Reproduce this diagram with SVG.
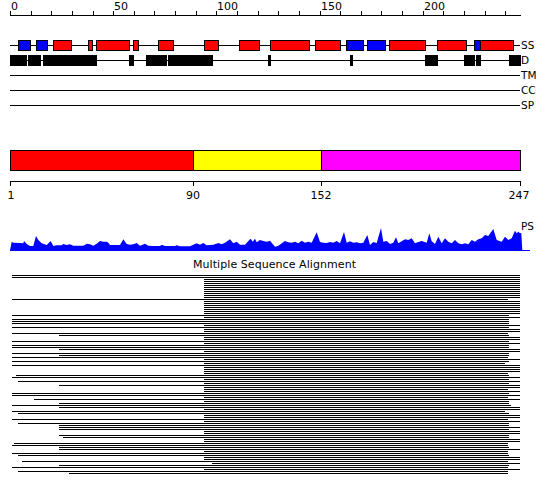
<svg xmlns="http://www.w3.org/2000/svg" width="550" height="495" viewBox="0 0 550 495">
<style>
  .lbl { font-family: "DejaVu Sans", "Liberation Sans", sans-serif; font-size: 11px; fill: #000; }
  .trk { font-family: "DejaVu Sans", "Liberation Sans", sans-serif; font-size: 10.5px; fill: #000; }
  .ln { stroke: #000; stroke-width: 1; fill: none; shape-rendering: crispEdges; }
  .h { fill: #ff0000; stroke: #000; stroke-width: 1; shape-rendering: crispEdges; }
  .e { fill: #0000ff; stroke: #000; stroke-width: 1; shape-rendering: crispEdges; }
  .d { fill: #000; stroke: #000; stroke-width: 1; shape-rendering: crispEdges; }
</style>
<rect width="550" height="495" fill="#fff"/>

<g id="ruler">
  <path class="ln" d="M10 15.5H521 M10.5 11V15 M31.5 11V15 M51.5 11V15 M72.5 11V15 M93.5 11V15 M113.5 11V15 M134.5 11V15 M154.5 11V15 M175.5 11V15 M196.5 11V15 M216.5 11V15 M237.5 11V15 M258.5 11V15 M278.5 11V15 M299.5 11V15 M320.5 11V15 M340.5 11V15 M361.5 11V15 M381.5 11V15 M402.5 11V15 M423.5 11V15 M443.5 11V15 M464.5 11V15 M485.5 11V15 M505.5 11V15"/>
  <text class="lbl" x="11" y="10">0</text>
  <text class="lbl" x="114" y="10">50</text>
  <text class="lbl" x="217" y="10">100</text>
  <text class="lbl" x="321" y="10">150</text>
  <text class="lbl" x="424" y="10">200</text>
</g>

<g id="track-ss">
  <path class="ln" d="M10 45.5H520"/>
  <rect class="e" x="18.5" y="40.5" width="12" height="10"/>
  <rect class="e" x="36.5" y="40.5" width="11" height="10"/>
  <rect class="h" x="53.5" y="40.5" width="18" height="10"/>
  <rect class="h" x="88.5" y="40.5" width="4" height="10"/>
  <rect class="h" x="96.5" y="40.5" width="33" height="10"/>
  <rect class="h" x="133.5" y="40.5" width="5" height="10"/>
  <rect class="h" x="158.5" y="40.5" width="15" height="10"/>
  <rect class="h" x="204.5" y="40.5" width="14" height="10"/>
  <rect class="h" x="239.5" y="40.5" width="20" height="10"/>
  <rect class="h" x="270.5" y="40.5" width="39" height="10"/>
  <rect class="h" x="315.5" y="40.5" width="25" height="10"/>
  <rect class="e" x="346.5" y="40.5" width="17" height="10"/>
  <rect class="e" x="367.5" y="40.5" width="18" height="10"/>
  <rect class="h" x="389.5" y="40.5" width="36" height="10"/>
  <rect class="h" x="437.5" y="40.5" width="29" height="10"/>
  <rect class="e" x="474.5" y="40.5" width="6" height="10"/>
  <rect class="h" x="480.5" y="40.5" width="33" height="10"/>
  <text class="trk" x="521" y="49">SS</text>
</g>

<g id="track-d">
  <path class="ln" d="M10 60.5H520"/>
  <rect class="d" x="10.5" y="55.5" width="16" height="10"/>
  <rect class="d" x="28.5" y="55.5" width="12" height="10"/>
  <rect class="d" x="43.5" y="55.5" width="53" height="10"/>
  <rect class="d" x="129.5" y="55.5" width="4" height="10"/>
  <rect class="d" x="146.5" y="55.5" width="20" height="10"/>
  <rect class="d" x="168.5" y="55.5" width="44" height="10"/>
  <rect class="d" x="268.5" y="55.5" width="2" height="10"/>
  <rect class="d" x="350.5" y="55.5" width="2" height="10"/>
  <rect class="d" x="425.5" y="55.5" width="12" height="10"/>
  <rect class="d" x="464.5" y="55.5" width="10" height="10"/>
  <rect class="d" x="476.5" y="55.5" width="4" height="10"/>
  <rect class="d" x="509.5" y="55.5" width="11" height="10"/>
  <text class="trk" x="521" y="64">D</text>
</g>

<g id="track-tm">
  <path class="ln" d="M10 75.5H520"/>
  <text class="trk" x="521" y="79">TM</text>
</g>
<g id="track-cc">
  <path class="ln" d="M10 90.5H520"/>
  <text class="trk" x="521" y="94">CC</text>
</g>
<g id="track-sp">
  <path class="ln" d="M10 105.5H520"/>
  <text class="trk" x="521" y="109">SP</text>
</g>

<g id="domains">
  <rect x="10.5" y="150.5" width="183" height="20" fill="#ff0000" stroke="#000" shape-rendering="crispEdges"/>
  <rect x="193.5" y="150.5" width="128" height="20" fill="#ffff00" stroke="#000" shape-rendering="crispEdges"/>
  <rect x="321.5" y="150.5" width="199" height="20" fill="#ff00ff" stroke="#000" shape-rendering="crispEdges"/>
  <path class="ln" d="M10 181.5H521 M10.5 181V186 M193.5 181V186 M321.5 181V186 M520.5 181V186"/>
  <text class="lbl" x="11" y="199" text-anchor="middle">1</text>
  <text class="lbl" x="193" y="199" text-anchor="middle">90</text>
  <text class="lbl" x="321" y="199" text-anchor="middle">152</text>
  <text class="lbl" x="519" y="199" text-anchor="middle">247</text>
</g>

<g id="ps">
  <polygon fill="#0000ff" points="10,250.5 11.7,241.7 13.3,242.7 20,243 23.3,243.3 24,241 26.7,244 30,246 33.3,246 36,236 38.3,240 41.7,243.3 46.7,245 50.7,241 53.3,246 56.7,245.3 61.7,245.3 63.3,244 66.7,245 70,244.3 73.3,245.7 76.7,245.7 83.3,245.7 86.7,243.7 90,244.3 93.3,245.7 96.7,243.7 100,241 103.3,241.7 106.7,241.7 108.3,242.7 110,245 120,245 123.3,239.3 126.7,244 130,244.7 133.3,244.3 136.7,243 140,245.7 145,243.7 148.3,245.7 153.3,246 160,246 161.7,244.7 165,246 175,246 176.7,245.3 180,246.3 190,246.3 193.3,244.7 196.7,243.3 200,244.7 203.3,243 206.7,245.3 213.3,244.7 218.3,243 221.7,244.3 225,242.7 230,239.3 233.3,243.3 236.7,241.7 240,244.7 245,244.7 248.3,241 250.7,238.7 252.7,241.7 255,238.7 256.7,242.3 260,240 263.3,241 266.7,241.7 270,240.7 273.3,244.7 275,246.7 278.3,245.7 285,241 288.3,242.3 291.7,242.7 295,241.7 298.3,243.3 301.7,240.7 305,242.7 308.3,241.7 311.7,242.7 316.7,232.3 320,242 323.3,242.7 326.7,243 330,242 333.3,242.7 336.7,241 340,243.3 344,232 346.7,242.7 350,241.3 353.3,242.7 356.7,242.3 360,243.3 363.3,242.7 367.3,235 370,245 373.3,242 376.7,243 381,228 383.3,241.7 386.7,241 390,244 393.3,242.7 396,237.3 398.3,243.3 401.7,241.3 405,239.3 408.3,240 411.7,238.3 415,243.3 418.3,242 421.7,241 426.7,242.7 429.3,233.3 431.7,241.3 435,244 438.3,236.7 441.7,243.3 445,238.3 448.3,241.7 451.7,243.3 455,240 458.3,243.3 461.7,244.3 465,243.3 468.3,244.3 471.7,240 475,241.7 478.3,239.3 481.7,238.3 485,235 488.3,236 493.3,229 496.7,240 501.7,241.7 505,236.7 508.3,240 511.7,238.3 515,230.7 516.7,233.3 518.3,231.7 520,233.3 521.3,232.7 522.3,250.5"/>
  <path d="M10 250.5H530" stroke="#0000ff" stroke-width="1" fill="none" shape-rendering="crispEdges"/>
  <text class="trk" x="521" y="230">PS</text>
</g>

<g id="msa">
  <text class="lbl" x="274.5" y="268" text-anchor="middle" font-size="10.5" textLength="163" lengthAdjust="spacing">Multiple Sequence Alignment</text>
  <path class="ln" d="M12 275.5H520 M12 277.5H520 M204 279.5H520 M204 281.5H520 M204 283.5H520 M204 285.5H520 M204 287.5H520 M204 289.5H520 M204 291.5H520 M204 293.5H520 M204 295.5H520 M204 297.5H520 M12 299.5H508 M204 301.5H520 M204 303.5H520 M204 305.5H520 M204 307.5H520 M204 309.5H520 M204 311.5H520 M204 313.5H520 M12 315.5H509 M204 317.5H520 M12 319.5H509 M12 321.5H509 M12 323.5H509 M204 325.5H520 M12 327.5H509 M204 329.5H520 M204 331.5H520 M12 333.5H508 M59 335.5H509 M204 337.5H520 M204 339.5H520 M12 341.5H509 M204 343.5H520 M12 345.5H509 M12 347.5H509 M59 349.5H520 M204 351.5H520 M12 353.5H509 M59 355.5H509 M12 357.5H508 M204 359.5H520 M12 361.5H509 M204 363.5H505 M12 365.5H520 M204 367.5H520 M204 369.5H520 M204 371.5H520 M204 373.5H508 M16 375.5H509 M12 377.5H520 M204 379.5H509 M18 381.5H520 M204 383.5H509 M59 385.5H520 M204 387.5H520 M204 389.5H508 M204 391.5H520 M12 393.5H509 M12 395.5H520 M204 397.5H508 M34 399.5H520 M204 401.5H509 M59 403.5H509 M12 405.5H511 M59 407.5H520 M204 409.5H520 M12 411.5H505 M18 413.5H509 M204 415.5H520 M204 417.5H520 M12 419.5H508 M204 421.5H520 M18 423.5H509 M59 425.5H509 M59 427.5H520 M59 429.5H509 M204 431.5H520 M204 433.5H520 M59 435.5H509 M63 437.5H509 M204 439.5H520 M204 441.5H520 M14 443.5H508 M12 445.5H508 M59 447.5H509 M59 449.5H520 M204 451.5H508 M12 453.5H508 M18 455.5H509 M204 457.5H520 M204 459.5H520 M22 461.5H508 M212 463.5H520 M59 465.5H509 M12 467.5H508 M204 469.5H520 M18 471.5H508 M69 473.5H508"/>
</g>
</svg>
